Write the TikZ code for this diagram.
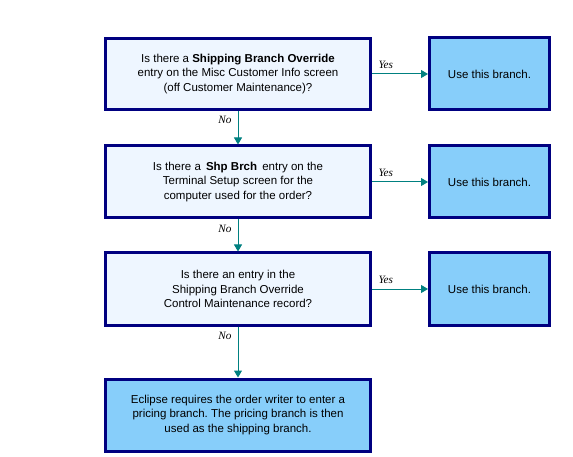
\documentclass[tikz,border=0pt]{standalone}
\usepackage{fontspec}
\setmainfont{Liberation Sans}
\newfontfamily\yesnofont{Liberation Serif}
\usetikzlibrary{arrows.meta}
\definecolor{boxnavy}{RGB}{0,0,128}
\definecolor{flowteal}{RGB}{0,128,128}
\definecolor{askfill}{RGB}{238,246,255}
\definecolor{usefill}{RGB}{135,206,250}
\frenchspacing

\begin{document}
\begin{tikzpicture}[x=1pt,y=-1pt,>={Triangle[length=7pt,width=8pt]},
  font=\fontsize{11.5}{14.5}\selectfont,
  askbox/.style={draw=boxnavy,line width=3pt,fill=askfill,minimum width=265pt,align=center,inner sep=0pt},
  usebox/.style={askbox,fill=usefill,minimum width=120pt},
  flow/.style={->,draw=flowteal,line width=1pt},
  yesno/.style={font=\yesnofont\itshape\fontsize{11.2}{12}\selectfont,inner sep=2pt,at start}]
\useasboundingbox (0,0) rectangle (573,457);
\node[askbox,minimum height=71pt] (q1) at (238,74) {Is there a \textbf{Shipping Branch Override}\\entry on the Misc Customer Info screen\\(off Customer Maintenance)?};
\node[askbox,minimum height=72pt] (q2) at (238,182) {Is there a \,\textbf{Shp Brch}\,\ entry on the\\Terminal Setup screen for the\\computer used for the order?};
\node[askbox,minimum height=72pt] (q3) at (238,289) {Is there an entry in the\\Shipping Branch Override\\Control Maintenance record?};
\node[askbox,fill=usefill,minimum height=72pt] (fin) at (238,415) {Eclipse requires the order writer to enter a\\pricing branch. The pricing branch is then\\used as the shipping branch.};
\node[usebox,minimum height=72pt] (a1) at (489.5,74) {Use this branch.};
\node[usebox,minimum height=72pt] (a2) at (489.5,182) {Use this branch.};
\node[usebox,minimum height=72pt] (a3) at (489.5,289) {Use this branch.};
\draw[flow] (q1) -- node[yesno,anchor=south west,xshift=4pt,yshift=3pt] {Yes} (a1);
\draw[flow] (q2) -- node[yesno,anchor=south west,xshift=4pt,yshift=3pt] {Yes} (a2);
\draw[flow] (q3) -- node[yesno,anchor=south west,xshift=4pt,yshift=3pt] {Yes} (a3);
\draw[flow] (q1) -- node[yesno,anchor=north east,xshift=-4pt,yshift=-3pt] {No} (q2);
\draw[flow] (q2) -- node[yesno,anchor=north east,xshift=-4pt,yshift=-3pt] {No} (q3);
\draw[flow] (q3) -- node[yesno,anchor=north east,xshift=-4pt,yshift=-3pt] {No} (fin);
\end{tikzpicture}
\end{document}
